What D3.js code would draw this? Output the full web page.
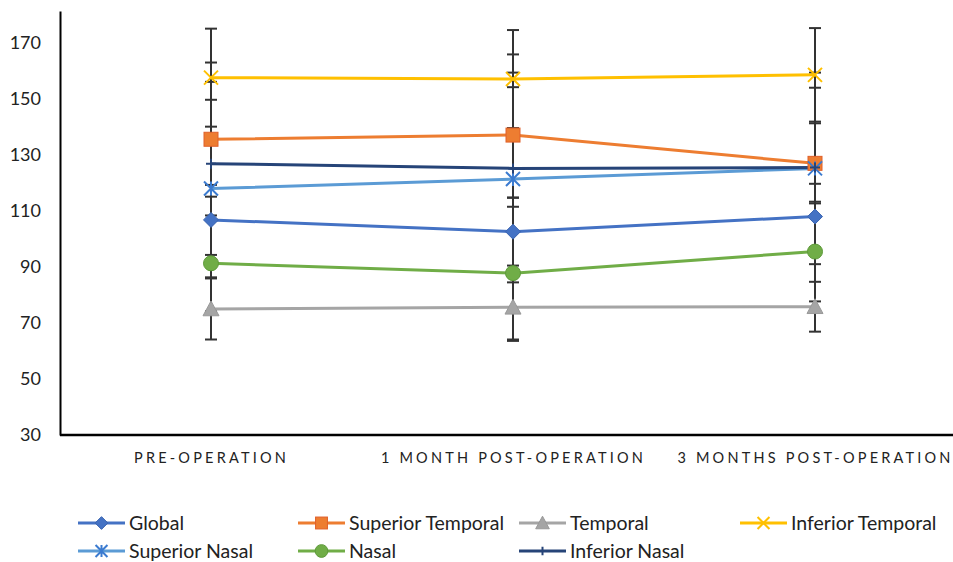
<!DOCTYPE html>
<html>
<head>
<meta charset="utf-8">
<script src="https://cdn.jsdelivr.net/npm/d3@7"></script>
<style>
  body { margin: 0; background: #fff; }
  svg { display: block; }
</style>
</head>
<body>
<svg id="chart" width="953" height="562"></svg>
<script>
const categories = ["PRE-OPERATION", "1 MONTH POST-OPERATION", "3 MONTHS POST-OPERATION"];
const seriesNames = ["Global", "Superior Temporal", "Temporal", "Inferior Temporal", "Superior Nasal", "Nasal", "Inferior Nasal"];
const globalVals = [106.8, 102.6, 108.0];
const supTempVals = [135.6, 137.1, 127.0];
const tempVals = [75.0, 75.6, 75.8];
const infTempVals = [157.6, 157.1, 158.6];
const supNasalVals = [118.0, 121.4, 125.2];
const nasalVals = [91.3, 87.8, 95.5];
const infNasalVals = [126.9, 125.2, 125.5];
const globalErr = [12.5, 12.1, 11.7];
const supTempErr = [20.5, 22.3, 14.3];
const tempErr = [10.9, 12.0, 8.9];
const infTempErr = [17.5, 17.5, 16.7];
const supNasalErr = [31.7, 32.8, 34.2];
const nasalErr = [17.1, 23.7, 17.8];
const infNasalErr = [36.1, 40.7, 28.5];
const yTicks = [30, 50, 70, 90, 110, 130, 150, 170];

const colors = ["#4472C4", "#ED7D31", "#A5A5A5", "#FFC000", "#5B9BD5", "#70AD47", "#264478"];
const markers = ["diamond", "square", "triangle", "x", "star", "circle", "plus"];
const valsList = [globalVals, supTempVals, tempVals, infTempVals, supNasalVals, nasalVals, infNasalVals];
const errList = [globalErr, supTempErr, tempErr, infTempErr, supNasalErr, nasalErr, infNasalErr];
const series = seriesNames.map((n, i) => ({name: n, color: colors[i], marker: markers[i], vals: valsList[i], errs: errList[i]}));

const svg = d3.select("#chart");
const FONT = "Lato, 'Open Sans', sans-serif";

const x = d3.scalePoint().domain(categories).range([60, 966]).padding(0.5);
const y = d3.scaleLinear().domain([30, 181.4]).range([435, 11]);

// axes
const yAxis = svg.append("g").attr("transform", "translate(60,0)")
  .call(d3.axisLeft(y).tickValues(yTicks).tickSize(0).tickPadding(19));
yAxis.select(".domain").attr("stroke", "#000").attr("stroke-width", 2);
yAxis.selectAll("text").attr("font-family", FONT).attr("font-size", 18).attr("fill", "#222");

const xAxis = svg.append("g").attr("transform", "translate(0,435)")
  .call(d3.axisBottom(x).tickSize(0).tickPadding(18));
xAxis.select(".domain").attr("stroke", "#000").attr("stroke-width", 2.5).attr("d", "M60,0H966");
xAxis.selectAll("text").attr("font-family", FONT).attr("font-size", 14.5).attr("fill", "#222")
  .attr("letter-spacing", "3.2px");

// error bars
const eb = svg.append("g");
series.forEach(s => {
  categories.forEach((c, i) => {
    const cx = x(c), y1 = y(s.vals[i] + s.errs[i]), y2 = y(s.vals[i] - s.errs[i]);
    eb.append("line").attr("x1", cx).attr("x2", cx).attr("y1", y1).attr("y2", y2)
      .attr("stroke", "#333").attr("stroke-width", 2);
    [y1, y2].forEach(yy => eb.append("line").attr("x1", cx - 6).attr("x2", cx + 6)
      .attr("y1", yy).attr("y2", yy).attr("stroke", "#333").attr("stroke-width", 2));
  });
});

function drawMarker(g, type, cx, cy, color, scale) {
  const k = scale || 1;
  if (type === "diamond") {
    const r = 7.5 * k;
    g.append("path").attr("d", `M${cx},${cy - r}L${cx + r},${cy}L${cx},${cy + r}L${cx - r},${cy}Z`)
      .attr("fill", color).attr("stroke", "#3A64B0").attr("stroke-width", 1);
  } else if (type === "square") {
    const r = 7 * k;
    g.append("rect").attr("x", cx - r).attr("y", cy - r).attr("width", 2 * r).attr("height", 2 * r)
      .attr("fill", color).attr("stroke", "#E0602A").attr("stroke-width", 1);
  } else if (type === "triangle") {
    const r = 8 * k;
    g.append("path").attr("d", `M${cx},${cy - r}L${cx + r},${cy + r * 0.85}L${cx - r},${cy + r * 0.85}Z`)
      .attr("fill", color).attr("stroke", "#999").attr("stroke-width", 1);
  } else if (type === "circle") {
    g.append("circle").attr("cx", cx).attr("cy", cy).attr("r", 7.5 * k)
      .attr("fill", color).attr("stroke", "#5E9A3A").attr("stroke-width", 1);
  } else if (type === "x") {
    const r = 7 * k;
    g.append("path").attr("d", `M${cx - r},${cy - r}L${cx + r},${cy + r}M${cx - r},${cy + r}L${cx + r},${cy - r}`)
      .attr("stroke", color).attr("stroke-width", 2).attr("fill", "none");
  } else if (type === "star") {
    const r = 7 * k;
    g.append("path").attr("d", `M${cx - r},${cy - r}L${cx + r},${cy + r}M${cx - r},${cy + r}L${cx + r},${cy - r}M${cx},${cy - r}L${cx},${cy + r}`)
      .attr("stroke", "#3B7BD0").attr("stroke-width", 2).attr("fill", "none");
  } else if (type === "plus") {
    const r = 5 * k;
    g.append("path").attr("d", `M${cx - r},${cy}L${cx + r},${cy}M${cx},${cy - r}L${cx},${cy + r}`)
      .attr("stroke", color).attr("stroke-width", 2).attr("fill", "none");
  }
}

const line = d3.line().x((d, i) => x(categories[i])).y(d => y(d));
const lg = svg.append("g");
series.forEach(s => {
  lg.append("path").datum(s.vals).attr("d", line).attr("fill", "none")
    .attr("stroke", s.color).attr("stroke-width", 3).attr("stroke-linejoin", "round");
});
series.forEach(s => {
  s.vals.forEach((v, i) => drawMarker(lg, s.marker, x(categories[i]), y(v), s.color));
});

// legend
const legX = [78, 298, 519, 740];
const legY = [523, 551];
const leg = svg.append("g");
series.forEach((s, i) => {
  const lx = legX[i % 4], ly = legY[Math.floor(i / 4)];
  leg.append("line").attr("x1", lx).attr("x2", lx + 47).attr("y1", ly).attr("y2", ly)
    .attr("stroke", s.color).attr("stroke-width", 3);
  drawMarker(leg, s.marker, lx + 23.5, ly, s.color, 0.85);
  leg.append("text").attr("x", lx + 51).attr("y", ly).attr("dy", "0.35em")
    .attr("font-family", FONT).attr("font-size", 19.5).attr("fill", "#222").text(s.name);
});
</script>
</body>
</html>
